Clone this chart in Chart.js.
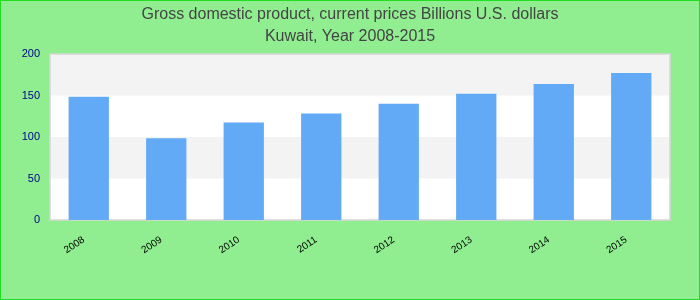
<!DOCTYPE html>
<html lang="en">
<head>
  <meta charset="UTF-8" />
  <title>Kuwait GDP</title>
  <script src="https://cdn.jsdelivr.net/npm/chart.js"></script>
  <style>
    body {
      margin: 0;
      background: #90ee90;
    }
    #wrap {
      width: 700px;
      height: 300px;
      box-sizing: border-box;
      border: 1px solid #22dd22;
      background: #90ee90;
    }
    canvas {
      display: block;
    }
  </style>
</head>
<body>
  <div id="wrap">
    <canvas id="gdpChart" width="698" height="298"></canvas>
  </div>

  <script>
    // data
    const years = ['2008', '2009', '2010', '2011', '2012', '2013', '2014', '2015'];
    const gdp = [148.5, 98.5, 117.5, 128.2, 140.1, 152, 164, 177];
    const yTicks = [0, 50, 100, 150, 200];

    // alternating bands + light border round the plot area
    const bands = {
      id: 'bands',
      beforeDatasetsDraw(chart) {
        const { ctx, chartArea: a, scales: { y } } = chart;
        ctx.save();
        ctx.fillStyle = '#ffffff';
        ctx.fillRect(a.left, a.top, a.width, a.height);
        for (let i = 0; i < yTicks.length - 1; i++) {
          if (i % 2 === 1) {
            const top = y.getPixelForValue(yTicks[i + 1]);
            const bot = y.getPixelForValue(yTicks[i]);
            ctx.fillStyle = '#f3f3f3';
            ctx.fillRect(a.left, top, a.width, bot - top);
          }
        }
        ctx.strokeStyle = '#d6d6d6';
        ctx.lineWidth = 1.5;
        ctx.strokeRect(a.left, a.top, a.width, a.height);
        ctx.restore();
      }
    };

    const font = 'Liberation Sans, Arial, sans-serif';

    new Chart(document.getElementById('gdpChart'), {
      type: 'bar',
      data: {
        labels: years,
        datasets: [{
          label: 'GDP',
          data: gdp,
          backgroundColor: '#62aaf5',
          barPercentage: 0.52,
          categoryPercentage: 1
        }]
      },
      options: {
        responsive: false,
        animation: false,
        layout: { padding: 0 },
        plugins: {
          legend: { display: false },
          tooltip: { enabled: false },
          title: {
            display: true,
            text: ['Gross domestic product, current prices Billions U.S. dollars', 'Kuwait, Year 2008-2015'],
            color: '#444444',
            font: { family: font, size: 16, weight: 'normal', lineHeight: 1.375 },
            padding: { top: 3, bottom: 6 }
          }
        },
        scales: {
          x: {
            grid: { display: false, drawTicks: false },
            border: { display: false },
            ticks: {
              color: '#000000',
              font: { family: font, size: 10 },
              minRotation: 33,
              maxRotation: 33,
              labelOffset: -5,
              padding: 14
            },
            afterFit(scale) { scale.height = 79; }
          },
          y: {
            min: 0,
            max: 200,
            grid: { display: false, drawTicks: false },
            border: { display: false },
            ticks: {
              stepSize: 50,
              color: '#00008b',
              font: { family: font, size: 11 },
              padding: 10
            },
            afterFit(scale) { scale.width = 49; }
          },
          // empty right-hand axis only reserves the gap on the right
          yRight: {
            position: 'right',
            display: true,
            grid: { display: false, drawTicks: false },
            border: { display: false },
            ticks: { display: false },
            afterFit(scale) { scale.width = 29; }
          }
        }
      },
      plugins: [bands]
    });
  </script>
</body>
</html>
